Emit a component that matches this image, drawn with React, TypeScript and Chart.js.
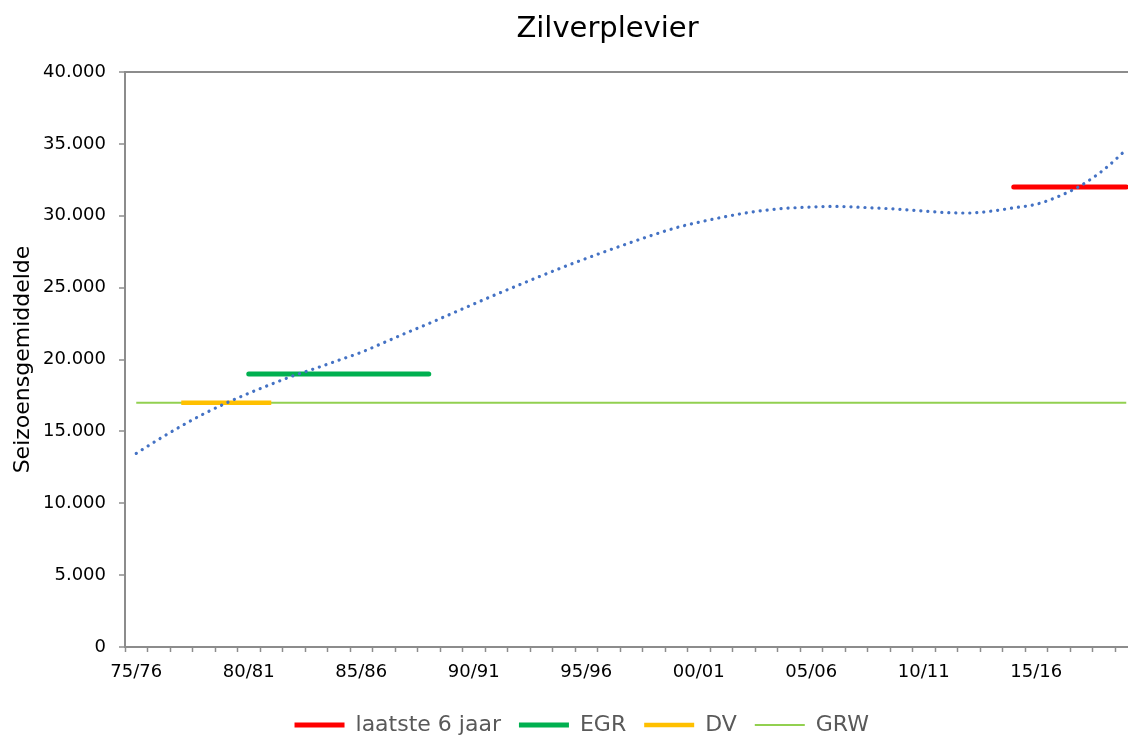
import React, { useEffect, useRef } from 'react';
import { Chart, registerables } from 'chart.js';

Chart.register(...registerables);

const chartTitle = 'Zilverplevier';
const yAxisTitle = 'Seizoensgemiddelde';

const seasons = [
  '75/76', '76/77', '77/78', '78/79', '79/80', '80/81', '81/82', '82/83', '83/84', '84/85',
  '85/86', '86/87', '87/88', '88/89', '89/90', '90/91', '91/92', '92/93', '93/94', '94/95',
  '95/96', '96/97', '97/98', '98/99', '99/00', '00/01', '01/02', '02/03', '03/04', '04/05',
  '05/06', '06/07', '07/08', '08/09', '09/10', '10/11', '11/12', '12/13', '13/14', '14/15',
  '15/16', '16/17', '17/18', '18/19', '19/20',
];

// trend line (seizoensgemiddelde, polynomial trend)
const trendValues = [
  13470, 14450, 15370, 16220, 16970, 17650, 18280, 18880, 19400, 19950,
  20500, 21170, 21850, 22500, 23180, 23860, 24530, 25180, 25820, 26440,
  27030, 27600, 28150, 28680, 29170, 29550, 29880, 30170, 30390, 30530,
  30610, 30650, 30600, 30530, 30440, 30320, 30220, 30190, 30320, 30550,
  30800, 31350, 32120, 33200, 34600,
];

const last6Label = 'laatste 6 jaar';
const last6Value = 32000;
const last6Seasons = ['14/15', '15/16', '16/17', '17/18', '18/19', '19/20'];

const egrLabel = 'EGR';
const egrValue = 19000;
const egrSeasons = ['80/81', '81/82', '82/83', '83/84', '84/85', '85/86', '86/87', '87/88', '88/89'];

const dvLabel = 'DV';
const dvValue = 17000;
const dvSeasons = ['77/78', '78/79', '79/80', '80/81', '81/82'];

const grwLabel = 'GRW';
const grwValue = 17000;

const yTicks = [0, 5000, 10000, 15000, 20000, 25000, 30000, 35000, 40000];

const spanData = (value: number, span: string[]) =>
  seasons.map((s) => (span.includes(s) ? value : null));

const formatThousands = (v: number) => {
  if (v === 0) return '0';
  const k = Math.floor(v / 1000);
  const r = String(v % 1000).padStart(3, '0');
  return `${k}.${r}`;
};

const FONT = '"DejaVu Sans", Verdana, sans-serif';
const AXIS_GREY = '#8c8c8c';

const titlePlugin = {
  id: 'fixedTitle',
  afterDraw(chart: any) {
    const { ctx } = chart;
    ctx.save();
    ctx.font = `29px ${FONT}`;
    ctx.fillStyle = '#000000';
    ctx.textAlign = 'center';
    ctx.textBaseline = 'alphabetic';
    ctx.fillText(chartTitle, 607.5, 37);
    ctx.restore();
  },
};

export default function App() {
  const canvasRef = useRef<HTMLCanvasElement | null>(null);

  useEffect(() => {
    if (!canvasRef.current) return;
    Chart.defaults.font.family = FONT;

    const chart = new Chart(canvasRef.current, {
      type: 'line',
      data: {
        labels: seasons,
        datasets: [
          {
            label: 'trend',
            data: trendValues,
            borderColor: '#4472c4',
            borderWidth: 3.2,
            borderDash: [0.1, 6.9],
            borderCapStyle: 'round',
            pointRadius: 0,
            cubicInterpolationMode: 'monotone',
            fill: false,
          },
          {
            label: last6Label,
            data: spanData(last6Value, last6Seasons),
            borderColor: '#ff0000',
            backgroundColor: '#ff0000',
            borderWidth: 5,
            borderCapStyle: 'round',
            pointRadius: 0,
            fill: false,
          },
          {
            label: egrLabel,
            data: spanData(egrValue, egrSeasons),
            borderColor: '#00b050',
            backgroundColor: '#00b050',
            borderWidth: 5,
            borderCapStyle: 'round',
            pointRadius: 0,
            fill: false,
          },
          {
            label: dvLabel,
            data: spanData(dvValue, dvSeasons),
            borderColor: '#ffc000',
            backgroundColor: '#ffc000',
            borderWidth: 4.5,
            borderCapStyle: 'butt',
            pointRadius: 0,
            fill: false,
          },
          {
            label: grwLabel,
            data: seasons.map(() => grwValue),
            borderColor: '#92d050',
            backgroundColor: '#92d050',
            borderWidth: 2,
            borderCapStyle: 'butt',
            pointRadius: 0,
            fill: false,
          },
        ],
      },
      options: {
        responsive: false,
        animation: false,
        events: [],
        layout: { padding: { left: 26, top: 72, right: 12.5, bottom: 0 } },
        plugins: {
          title: { display: false },
          tooltip: { enabled: false },
          legend: {
            position: 'bottom',
            labels: {
              filter: (item: any) => item.text !== 'trend',
              usePointStyle: true,
              pointStyle: 'line',
              pointStyleWidth: 50,
              padding: 18,
              color: '#595959',
              font: { size: 22, family: FONT },
            },
          },
        },
        scales: {
          x: {
            type: 'category',
            offset: true,
            afterFit: (scale: any) => {
              scale.height = 49;
            },
            grid: {
              offset: true,
              drawOnChartArea: false,
              drawTicks: true,
              tickLength: 5,
              tickColor: AXIS_GREY,
              tickWidth: 1.5,
            },
            border: { display: true, color: AXIS_GREY, width: 2 },
            ticks: {
              autoSkip: false,
              maxRotation: 0,
              minRotation: 0,
              padding: 10,
              color: '#000000',
              font: { size: 18, family: FONT },
              callback: (_v: any, i: number) => (i % 5 === 0 ? seasons[i] : ''),
            },
          },
          y: {
            min: 0,
            max: 40000,
            afterFit: (scale: any) => {
              scale.width = 99;
            },
            afterBuildTicks: (scale: any) => {
              scale.ticks = yTicks.map((v) => ({ value: v }));
            },
            grid: {
              color: (ctx: any) => (ctx.tick && ctx.tick.value === 40000 ? AXIS_GREY : 'rgba(0,0,0,0)'),
              lineWidth: 2,
              drawTicks: true,
              tickLength: 6,
              tickColor: AXIS_GREY,
              tickWidth: 1.5,
            },
            border: { display: true, color: AXIS_GREY, width: 2 },
            ticks: {
              padding: 13,
              color: '#000000',
              font: { size: 18, family: FONT },
              callback: (v: any) => formatThousands(Number(v)),
            },
            title: {
              display: true,
              text: yAxisTitle,
              color: '#000000',
              font: { size: 22, family: FONT },
              padding: { top: -16, bottom: 0 },
            },
          },
        },
      },
      plugins: [titlePlugin],
    });

    return () => chart.destroy();
  }, []);

  return (
    <div
      style={{
        position: 'absolute',
        left: 0,
        top: 0,
        width: 1128,
        height: 737,
        overflow: 'hidden',
        background: '#ffffff',
      }}
    >
      <canvas
        ref={canvasRef}
        width={1150}
        height={746}
        style={{ display: 'block', width: 1150, height: 746 }}
      />
    </div>
  );
}
